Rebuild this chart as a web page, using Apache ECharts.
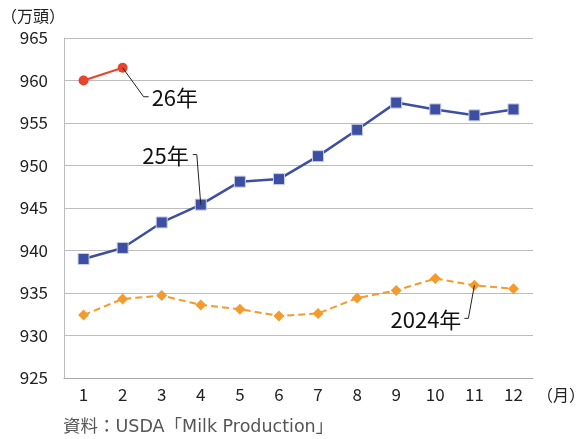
<!DOCTYPE html>
<html>
<head>
<meta charset="utf-8">
<script src="https://cdn.jsdelivr.net/npm/echarts@6/dist/echarts.min.js"></script>
<style>
  html, body { margin: 0; padding: 0; background: #fff; }
  #chart { width: 582px; height: 439px; }
</style>
</head>
<body>
<div id="chart"></div>
<script>
// Months on the category axis
const months = ['1', '2', '3', '4', '5', '6', '7', '8', '9', '10', '11', '12'];
// Dairy cow herd, 10,000 head
const y2026 = [960.0, 961.5];
const y2025 = [939.0, 940.3, 943.3, 945.4, 948.1, 948.4, 951.1, 954.2, 957.4, 956.6, 955.9, 956.6];
const y2024 = [932.4, 934.3, 934.7, 933.6, 933.1, 932.3, 932.6, 934.4, 935.3, 936.7, 935.9, 935.5];
// Value axis range
const yMin = 925, yMax = 965, yStep = 5;

const FONT = '"Noto Sans CJK JP", "Noto Sans", sans-serif';
const chart = echarts.init(document.getElementById('chart'));

chart.setOption({
  animation: false,
  textStyle: { fontFamily: FONT },
  grid: { left: 64, top: 38, right: 49, bottom: 61, containLabel: false, outerBoundsMode: 'none' },
  xAxis: {
    type: 'category',
    data: months,
    boundaryGap: true,
    name: '（月）',
    nameLocation: 'end',
    nameGap: 4,
    nameTextStyle: { color: '#222', fontSize: 16, verticalAlign: 'top', padding: [9, 0, 0, 0] },
    axisLine: { lineStyle: { color: '#aaa', width: 1 } },
    axisTick: { show: false },
    axisLabel: { color: '#222', fontSize: 17, margin: 8 }
  },
  yAxis: {
    type: 'value',
    min: yMin, max: yMax, interval: yStep,
    name: '（万頭）',
    nameLocation: 'end',
    nameGap: 14,
    nameTextStyle: { color: '#222', fontSize: 16, align: 'left', padding: [0, 0, 0, -63] },
    axisLine: { show: true, lineStyle: { color: '#bbb', width: 1 } },
    axisTick: { show: false },
    axisLabel: { color: '#222', fontSize: 17, margin: 16 },
    splitLine: { lineStyle: { color: '#bdbdbd', width: 1 } }
  },
  series: [
    {
      name: '2024年',
      type: 'line',
      data: y2024,
      symbol: 'diamond',
      symbolSize: 11,
      lineStyle: { color: '#f39b2c', width: 2, type: [7, 4] },
      itemStyle: { color: '#f39b2c' },
      z: 2
    },
    {
      name: '25年',
      type: 'line',
      data: y2025,
      symbol: 'rect',
      symbolSize: 11,
      lineStyle: { color: '#3d4fa3', width: 2.5 },
      itemStyle: { color: '#3d4fa3', borderColor: '#c9cde6', borderWidth: 1 },
      z: 3
    },
    {
      name: '26年',
      type: 'line',
      data: y2026,
      symbol: 'circle',
      symbolSize: 10,
      lineStyle: { color: '#e8442c', width: 2 },
      itemStyle: { color: '#e8442c' },
      z: 4
    }
  ]
});

// Leader lines and series labels anchored to data points
function px(monthIdx, value) {
  return chart.convertToPixel({ gridIndex: 0 }, [monthIdx, value]);
}
const p26 = px(1, y2026[1]);
const p25 = px(3, y2025[3]);
const p24 = px(10, y2024[10]);
const lineStyle = { stroke: '#222', lineWidth: 1 };
const labelStyle = { fill: '#111', fontSize: 22, fontFamily: FONT, textVerticalAlign: 'middle' };

chart.setOption({
  graphic: [
    { type: 'polyline', shape: { points: [[p26[0], p26[1]], [p26[0] + 21, p26[1] + 29], [p26[0] + 26, p26[1] + 29]] }, style: lineStyle, z: 10 },
    { type: 'text', x: p26[0] + 29, y: p26[1] + 30, style: Object.assign({ text: '26年', textAlign: 'left' }, labelStyle), z: 10 },

    { type: 'polyline', shape: { points: [[p25[0], p25[1]], [p25[0] - 4, p25[1] - 50], [p25[0] - 8, p25[1] - 50]] }, style: lineStyle, z: 10 },
    { type: 'text', x: p25[0] - 12, y: p25[1] - 49, style: Object.assign({ text: '25年', textAlign: 'right' }, labelStyle), z: 10 },

    { type: 'polyline', shape: { points: [[p24[0], p24[1]], [p24[0] - 6, p24[1] + 33], [p24[0] - 10, p24[1] + 33]] }, style: lineStyle, z: 10 },
    { type: 'text', x: p24[0] - 13, y: p24[1] + 34, style: Object.assign({ text: '2024年', textAlign: 'right' }, labelStyle), z: 10 },

    { type: 'text', left: 63, top: 419, style: { text: '資料：USDA「Milk Production」', fill: '#555', fontSize: 17.5, fontFamily: '"DejaVu Sans", "Noto Sans CJK JP", sans-serif' }, z: 10 }
  ]
});
</script>
</body>
</html>
